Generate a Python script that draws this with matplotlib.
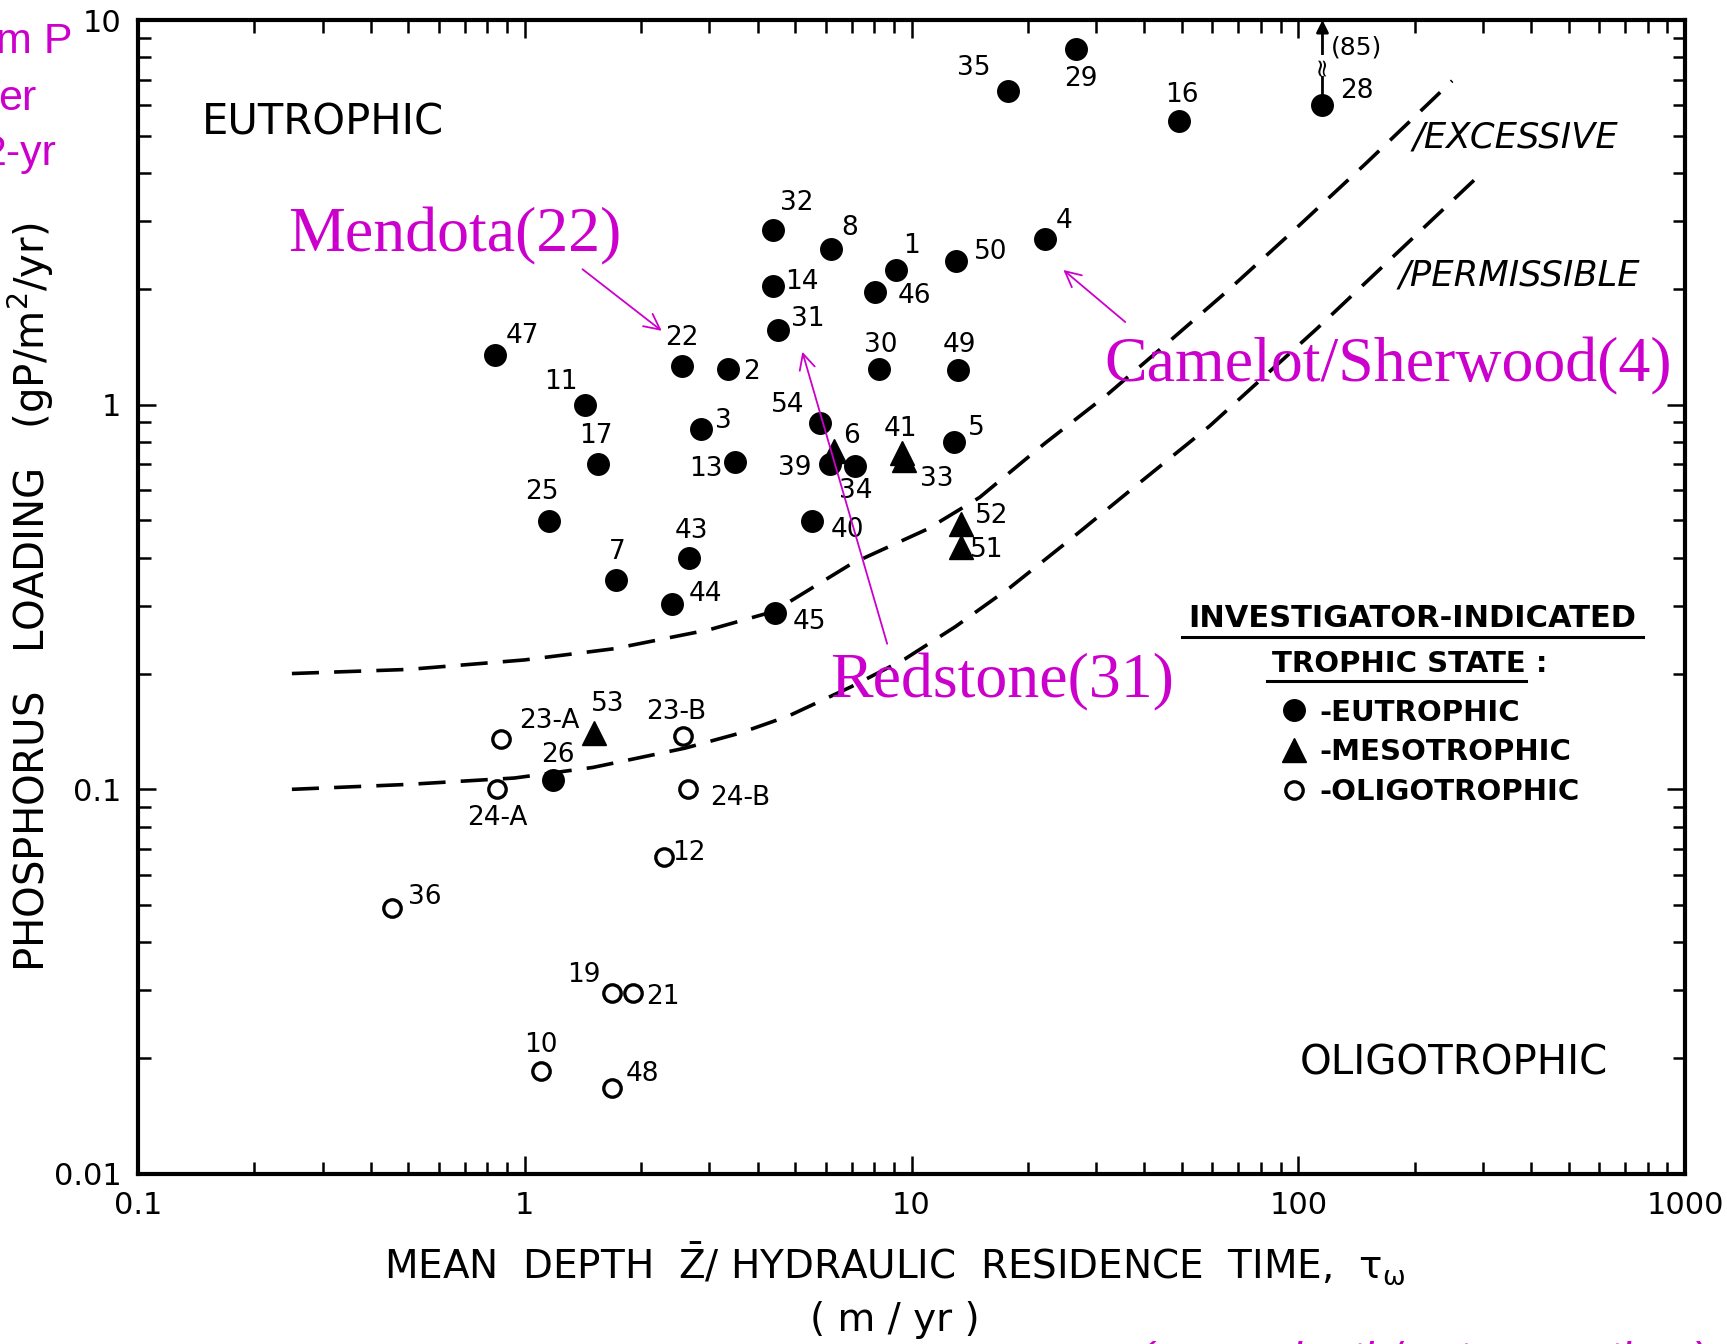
import numpy as np
import matplotlib
matplotlib.use("Agg")
import matplotlib.pyplot as plt
from matplotlib import ticker
from matplotlib.lines import Line2D

plt.rcParams["font.family"] = ["DejaVu Sans"]
plt.rcParams["mathtext.default"] = "regular"

# ---------------------------------------------------------
# data
# ---------------------------------------------------------
# eutrophic lakes (filled circles)
EU_IDS = ["35", "29", "16", "28", "32", "8", "1", "50", "4", "14", "46", "31",
          "47", "22", "2", "30", "49", "11", "54", "3", "39", "34", "5", "17",
          "13", "25", "40", "43", "7", "44", "45", "26"]
EU_X = [17.8, 26.7, 49.2, 115.5, 4.38, 6.2, 9.12, 13.0, 22.1, 4.38, 8.05, 4.52,
        0.838, 2.55, 3.35, 8.26, 13.2, 1.43, 5.80, 2.86, 6.15, 7.16, 12.9, 1.55,
        3.50, 1.155, 5.54, 2.66, 1.72, 2.41, 4.43, 1.18]
EU_Y = [6.55, 8.42, 5.45, 6.02, 2.85, 2.54, 2.24, 2.37, 2.69, 2.03, 1.96, 1.56,
        1.35, 1.26, 1.24, 1.24, 1.23, 1.00, 0.894, 0.865, 0.70, 0.692, 0.80, 0.70,
        0.71, 0.497, 0.497, 0.40, 0.35, 0.303, 0.287, 0.106]

# mesotrophic lakes (triangles)
MESO_IDS = ["6", "41", "33", "52", "51", "53"]
MESO_X = [6.32, 9.45, 9.55, 13.4, 13.4, 1.51]
MESO_Y = [0.758, 0.75, 0.72, 0.49, 0.427, 0.140]

# oligotrophic lakes (open circles)
OLIGO_IDS = ["23-A", "23-B", "24-A", "24-B", "12", "36", "19", "21", "10", "48"]
OLIGO_X = [0.866, 2.57, 0.849, 2.64, 2.29, 0.455, 1.68, 1.91, 1.10, 1.68]
OLIGO_Y = [0.135, 0.138, 0.100, 0.100, 0.0668, 0.049, 0.0295, 0.0295, 0.0185, 0.0167]

# Vollenweider loading lines
EXCESS_X = [0.25, 0.5, 1.0, 1.7, 3.0, 4.4, 7.0, 11, 15, 22, 32, 46, 65, 96, 150, 250]
EXCESS_Y = [0.200, 0.205, 0.217, 0.232, 0.26, 0.29, 0.386, 0.475, 0.574, 0.79,
            1.06, 1.45, 1.96, 2.8, 4.25, 6.95]
PERMIS_X = [0.25, 0.5, 0.94, 1.5, 2.6, 3.6, 4.8, 7.0, 9.6, 13, 18, 26, 38, 59,
            112, 290]
PERMIS_Y = [0.100, 0.103, 0.107, 0.114, 0.128, 0.14, 0.155, 0.185, 0.218, 0.265,
            0.335, 0.45, 0.615, 0.88, 1.58, 3.9]

# where each lake number sits relative to its marker (points)
LABEL_OFFSETS = {
    "35": (-25, 16), "29": (3, -22), "16": (2, 19), "28": (25, 10),
    "32": (17, 19), "8": (13, 15), "1": (11, 17), "50": (25, 6), "4": (14, 13),
    "14": (21, 3), "46": (28, -3), "31": (21, 8), "47": (20, 13), "22": (0, 20),
    "2": (17, -2), "30": (1, 17), "49": (1, 18), "11": (-17, 16), "54": (-23, 13),
    "3": (16, 6), "6": (12, 11), "39": (-25, -3), "34": (0, -18), "41": (-1, 17),
    "33": (24, -14), "5": (16, 10), "17": (-2, 20), "13": (-21, -5),
    "25": (-5, 21), "40": (25, -6), "52": (22, 6), "51": (19, -2), "43": (2, 19),
    "7": (1, 20), "44": (24, 7), "45": (25, -6), "53": (10, 21), "26": (4, 18),
    "23-A": (35, 13), "23-B": (-5, 17), "24-A": (0, -21), "24-B": (38, -6),
    "12": (18, 3), "36": (23, 8), "19": (-20, 13), "21": (21, -3),
    "10": (0, 19), "48": (22, 10),
}

MAGENTA = "#cc00cc"

fig = plt.figure(figsize=(17.27, 13.44), dpi=100)
ax = fig.add_axes([0.0799, 0.1265, 0.8958, 0.8586])
ax.set_xscale("log")
ax.set_yscale("log")
ax.set_xlim(0.1, 1000)
ax.set_ylim(0.01, 10)

# loading lines
ax.plot(EXCESS_X, EXCESS_Y, color="k", lw=2.6, dashes=(7.5, 4.2))
ax.plot(PERMIS_X, PERMIS_Y, color="k", lw=2.6, dashes=(7.5, 4.2))

# lakes
ax.plot(EU_X, EU_Y, "o", ms=15.5, color="k", ls="none", label="-EUTROPHIC")
ax.plot(MESO_X, MESO_Y, "^", ms=17, color="k", ls="none", label="-MESOTROPHIC")
ax.plot(OLIGO_X, OLIGO_Y, "o", ms=12.5, mfc="white", mec="k", mew=2.4,
        ls="none", label="-OLIGOTROPHIC")

for ids, xs, ys in [(EU_IDS, EU_X, EU_Y), (MESO_IDS, MESO_X, MESO_Y),
                    (OLIGO_IDS, OLIGO_X, OLIGO_Y)]:
    for lbl, x, y in zip(ids, xs, ys):
        ax.annotate(lbl, (x, y), xytext=LABEL_OFFSETS[lbl],
                    textcoords="offset points", ha="center", va="center",
                    fontsize=19)

# lake 28 is off scale: arrow up to (85)
i28 = EU_IDS.index("28")
ax.annotate("", xy=(EU_X[i28], 10), xytext=(EU_X[i28], EU_Y[i28]),
            arrowprops=dict(arrowstyle="-|>", lw=2, color="k", shrinkA=0,
                            shrinkB=0, mutation_scale=18))
ax.text(EU_X[i28], 7.6, "≈", ha="center", va="center", fontsize=18,
        rotation=90, bbox=dict(fc="white", ec="none", pad=0))
ax.text(121.7, 8.47, "(85)", ha="left", va="center", fontsize=18)

# region words
ax.text(0.041, 0.911, "EUTROPHIC", transform=ax.transAxes, fontsize=30,
        ha="left", va="center")
ax.text(0.751, 0.096, "OLIGOTROPHIC", transform=ax.transAxes, fontsize=29,
        ha="left", va="center")
ax.text(0.824, 0.898, "/EXCESSIVE", transform=ax.transAxes, fontsize=25.5,
        style="italic", ha="left", va="center")
ax.text(0.815, 0.779, "/PERMISSIBLE", transform=ax.transAxes, fontsize=25.5,
        style="italic", ha="left", va="center")

# legend block
ax.text(0.8236, 0.481, "INVESTIGATOR-INDICATED", transform=ax.transAxes,
        fontsize=22, fontweight="bold", ha="center", va="center")
ax.text(0.733, 0.442, "TROPHIC STATE :", transform=ax.transAxes,
        fontsize=21, fontweight="bold", ha="left", va="center")
ax.add_line(Line2D([0.675, 0.973], [0.4653, 0.4653], transform=ax.transAxes,
                   color="k", lw=2.2))
ax.add_line(Line2D([0.730, 0.897], [0.427, 0.427], transform=ax.transAxes,
                   color="k", lw=2.2))
leg = ax.legend(loc="upper left", bbox_to_anchor=(0.7375, 0.412),
                frameon=False, prop=dict(size=21, weight="bold"),
                handlelength=1.0, handletextpad=0.4, labelspacing=0.4,
                borderpad=0, borderaxespad=0, markerscale=1.0)

# magenta annotations
ax.text(0.244, 2.74, "Mendota(22)", color=MAGENTA, fontsize=46,
        family="Liberation Serif", ha="left", va="center")
ax.annotate("", xy=(2.26, 1.556), xytext=(1.41, 2.25),
            arrowprops=dict(arrowstyle="->", color=MAGENTA, lw=1.3,
                            shrinkA=0, shrinkB=0, mutation_scale=28))
ax.text(6.16, 0.190, "Redstone(31)", color=MAGENTA, fontsize=46,
        family="Liberation Serif", ha="left", va="center")
ax.annotate("", xy=(5.22, 1.373), xytext=(8.65, 0.239),
            arrowprops=dict(arrowstyle="->", color=MAGENTA, lw=1.3,
                            shrinkA=0, shrinkB=0, mutation_scale=28))
ax.text(31.5, 1.259, "Camelot/Sherwood(4)", color=MAGENTA, fontsize=46,
        family="Liberation Serif", ha="left", va="center")
ax.annotate("", xy=(24.7, 2.24), xytext=(35.7, 1.64),
            arrowprops=dict(arrowstyle="->", color=MAGENTA, lw=1.3,
                            shrinkA=0, shrinkB=0, mutation_scale=28))

# pieces of text cut off by the figure border
fig.text(0.0417, 0.9606, "m P", color=MAGENTA, fontsize=31,
         family="Liberation Sans", ha="right", va="baseline")
fig.text(0.0209, 0.918, "er", color=MAGENTA, fontsize=31,
         family="Liberation Sans", ha="right", va="baseline")
fig.text(0.033, 0.877, "2-yr", color=MAGENTA, fontsize=31,
         family="Liberation Sans", ha="right", va="baseline")
fig.text(0.659, -0.0215, "(mean depth/water res. time)", color=MAGENTA,
         fontsize=32, style="italic", family="Liberation Sans",
         ha="left", va="baseline")

# axes styling
for s in ax.spines.values():
    s.set_linewidth(3)
ax.tick_params(which="both", direction="in", top=True, right=True,
               labelsize=22, width=1.8, pad=12)
ax.tick_params(which="major", length=13)
ax.tick_params(which="minor", length=9)
fmt = ticker.FuncFormatter(lambda v, _: f"{v:g}")
ax.xaxis.set_major_formatter(fmt)
ax.yaxis.set_major_formatter(fmt)
ax.xaxis.set_minor_formatter(ticker.NullFormatter())
ax.yaxis.set_minor_formatter(ticker.NullFormatter())

ax.set_xlabel("MEAN  DEPTH  $\\bar{Z}$/ HYDRAULIC  RESIDENCE  TIME,  $\\tau_{\\omega}$"
              "\n( m / yr )", fontsize=28, linespacing=1.45, va="top")
ax.xaxis.set_label_coords(0.489, -0.058)
ax.set_ylabel("PHOSPHORUS   LOADING   (gP/m$^{2}$/yr)", fontsize=29)
ax.yaxis.set_label_coords(-0.053, 0.5)

fig.savefig("out.png", dpi=100)
